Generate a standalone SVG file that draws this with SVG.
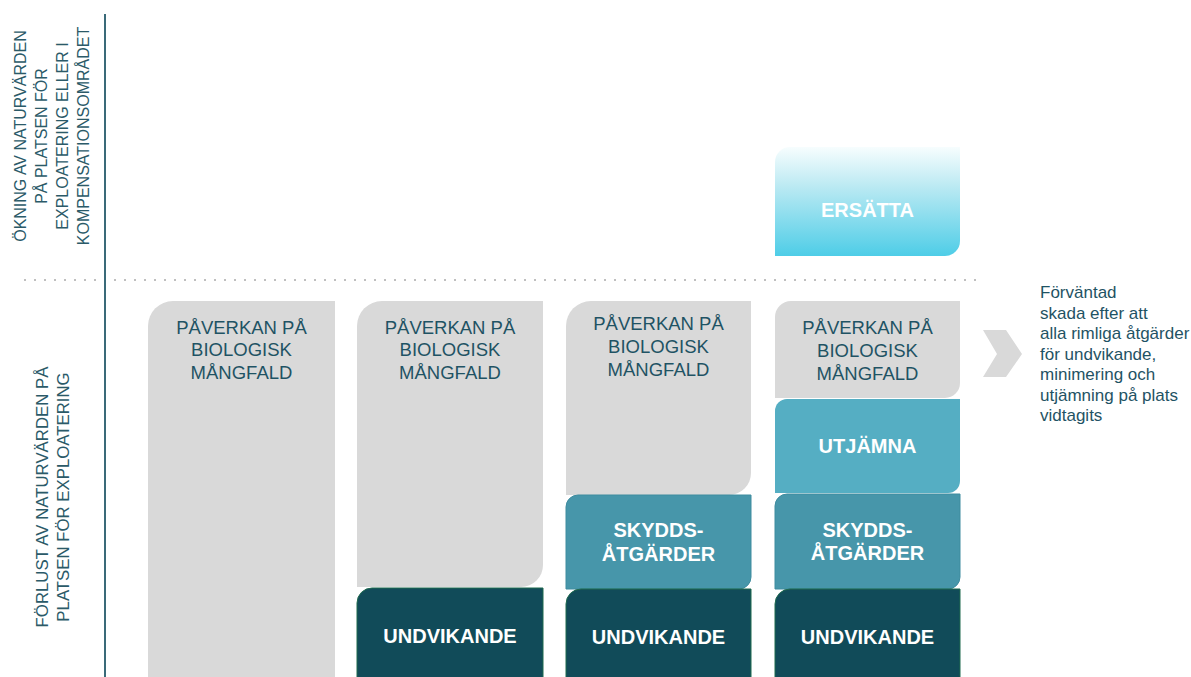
<svg xmlns="http://www.w3.org/2000/svg" width="1191" height="677" viewBox="0 0 1191 677">
  <defs>
    <linearGradient id="gErs" x1="0" y1="0" x2="0" y2="1">
      <stop offset="0" stop-color="#f7fdfe"/>
      <stop offset="0.35" stop-color="#bdeaf3"/>
      <stop offset="1" stop-color="#4ecde7"/>
    </linearGradient>
    <style>
      .axis{font-family:"Liberation Sans",Arial,sans-serif;fill:#2b5a68;text-anchor:middle}
      .gtxt{font-family:"Liberation Sans",Arial,sans-serif;font-size:18.5px;fill:#1f5364;text-anchor:middle}
      .wtxt{font-family:"Liberation Sans",Arial,sans-serif;font-size:20px;font-weight:bold;fill:#ffffff;text-anchor:middle}
      .note{font-family:"Liberation Sans",Arial,sans-serif;font-size:17px;fill:#1f5364}
      .gray{fill:#d9d9d9}
      .dark{fill:#114b59;stroke:#1f6b4f;stroke-width:1}
      .skydd{fill:#4796aa;stroke:#3f8c9f;stroke-width:1}
      .utj{fill:#55aec3}
    </style>
  </defs>
  <rect width="1191" height="677" fill="#ffffff"/>

  <g id="axes">
    <line x1="24" y1="280" x2="982" y2="280" stroke="#bfbfbf" stroke-width="2" stroke-dasharray="2 8"/>
    <line x1="105" y1="14" x2="105" y2="677" stroke="#3a6a79" stroke-width="2"/>
  </g>

  <g id="label-gain">
    <g transform="rotate(-90)">
      <text class="axis" font-size="16" x="-136" y="26">ÖKNING AV NATURVÄRDEN</text>
      <text class="axis" font-size="16" x="-136" y="47">PÅ PLATSEN FÖR</text>
      <text class="axis" font-size="16" x="-136" y="68">EXPLOATERING ELLER I</text>
      <text class="axis" font-size="16" x="-136" y="89">KOMPENSATIONSOMRÅDET</text>
    </g>
  </g>
  <g id="label-loss">
    <g transform="rotate(-90)">
      <text class="axis" font-size="16.8" x="-497" y="48">FÖRLUST AV NATURVÄRDEN PÅ</text>
      <text class="axis" font-size="16.8" x="-497" y="69">PLATSEN FÖR EXPLOATERING</text>
    </g>
  </g>

  <g id="col1-impact">
    <path class="gray" d="M148,326 A25,25 0 0 1 173,301 H335 V700 H148 Z"/>
    <text class="gtxt" x="241.5" y="333.5">PÅVERKAN PÅ</text>
    <text class="gtxt" x="241.5" y="356">BIOLOGISK</text>
    <text class="gtxt" x="241.5" y="379">MÅNGFALD</text>
  </g>

  <g id="col2-impact">
    <path class="gray" d="M357,326 A25,25 0 0 1 382,301 H543 V565 A22,22 0 0 1 521,587 H357 Z"/>
    <text class="gtxt" x="450" y="333.5">PÅVERKAN PÅ</text>
    <text class="gtxt" x="450" y="356">BIOLOGISK</text>
    <text class="gtxt" x="450" y="379">MÅNGFALD</text>
  </g>
  <g id="col2-avoid">
    <path class="dark" d="M357,603 A15,15 0 0 1 372,588 H543 V700 H357 Z"/>
    <text class="wtxt" x="450" y="643">UNDVIKANDE</text>
  </g>

  <g id="col3-impact">
    <path class="gray" d="M566,326 A25,25 0 0 1 591,301 H751 V473 A22,22 0 0 1 729,495 H566 Z"/>
    <text class="gtxt" x="658.5" y="330">PÅVERKAN PÅ</text>
    <text class="gtxt" x="658.5" y="352.5">BIOLOGISK</text>
    <text class="gtxt" x="658.5" y="375.5">MÅNGFALD</text>
  </g>
  <g id="col3-protect">
    <path class="skydd" d="M566,507 A12,12 0 0 1 578,495 H751 V577 A12,12 0 0 1 739,589 H566 Z"/>
    <text class="wtxt" x="658.5" y="537">SKYDDS-</text>
    <text class="wtxt" x="658.5" y="560.5">ÅTGÄRDER</text>
  </g>
  <g id="col3-avoid">
    <path class="dark" d="M566,604 A15,15 0 0 1 581,589 H751 V700 H566 Z"/>
    <text class="wtxt" x="658.5" y="644">UNDVIKANDE</text>
  </g>

  <g id="col4-compensate">
    <path fill="url(#gErs)" d="M775,162 A15,15 0 0 1 790,147 H960 V241 A15,15 0 0 1 945,256 H775 Z"/>
    <text class="wtxt" x="867.5" y="217">ERSÄTTA</text>
  </g>
  <g id="col4-impact">
    <path class="gray" d="M775,317 A16,16 0 0 1 791,301 H960 V383 A15,15 0 0 1 945,398 H775 Z"/>
    <text class="gtxt" x="867.5" y="334">PÅVERKAN PÅ</text>
    <text class="gtxt" x="867.5" y="356.5">BIOLOGISK</text>
    <text class="gtxt" x="867.5" y="379.5">MÅNGFALD</text>
  </g>
  <g id="col4-offset">
    <path class="utj" d="M775,411 A12,12 0 0 1 787,399 H960 V481 A12,12 0 0 1 948,493 H775 Z"/>
    <text class="wtxt" x="867.5" y="453">UTJÄMNA</text>
  </g>
  <g id="col4-protect">
    <path class="skydd" d="M775,506 A12,12 0 0 1 787,494 H960 V577 A12,12 0 0 1 948,589 H775 Z"/>
    <text class="wtxt" x="867.5" y="536.5">SKYDDS-</text>
    <text class="wtxt" x="867.5" y="560">ÅTGÄRDER</text>
  </g>
  <g id="col4-avoid">
    <path class="dark" d="M775,604 A15,15 0 0 1 790,589 H960 V700 H775 Z"/>
    <text class="wtxt" x="867.5" y="644">UNDVIKANDE</text>
  </g>

  <g id="connectors">
    <polygon fill="#d9d9d9" points="983,330 1006,330 1022,354 1006,377 983,377 997,354"/>
  </g>

  <g id="note">
    <text class="note" x="1040" y="298">Förväntad</text>
    <text class="note" x="1040" y="318.5">skada efter att</text>
    <text class="note" x="1040" y="339">alla rimliga åtgärder</text>
    <text class="note" x="1040" y="359.5">för undvikande,</text>
    <text class="note" x="1040" y="380">minimering och</text>
    <text class="note" x="1040" y="400.5">utjämning på plats</text>
    <text class="note" x="1040" y="421">vidtagits</text>
  </g>
</svg>
